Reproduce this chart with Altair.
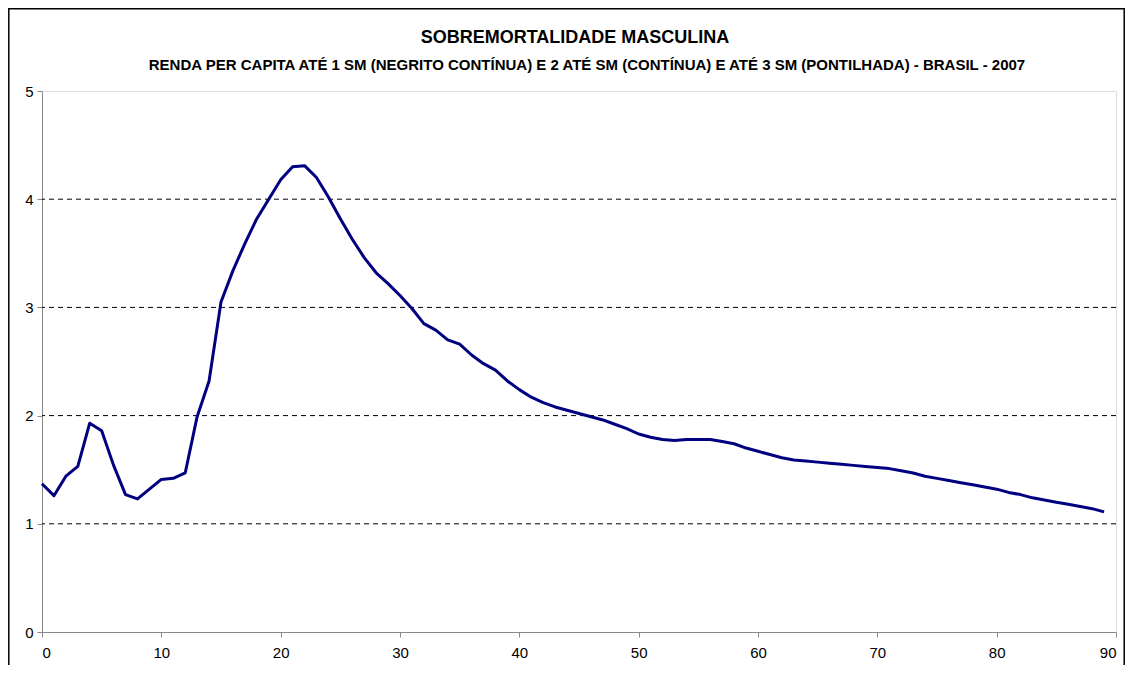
import altair as alt
import pandas as pd

TITLE = "SOBREMORTALIDADE MASCULINA"
SUBTITLE = "RENDA PER CAPITA ATÉ 1 SM (NEGRITO CONTÍNUA) E 2 ATÉ SM (CONTÍNUA) E ATÉ 3 SM (PONTILHADA) - BRASIL - 2007"

AGES = list(range(90))
RATIO = [
    1.37, 1.26, 1.44, 1.53, 1.93, 1.86, 1.54, 1.27, 1.23, 1.32,
    1.41, 1.42, 1.47, 1.99, 2.32, 3.05, 3.34, 3.59, 3.82, 4.00,
    4.18, 4.30, 4.31, 4.20, 4.02, 3.82, 3.63, 3.46, 3.32, 3.22,
    3.11, 2.99, 2.85, 2.79, 2.70, 2.66, 2.56, 2.48, 2.42, 2.32,
    2.24, 2.17, 2.12, 2.08, 2.05, 2.02, 1.99, 1.96, 1.92, 1.88,
    1.83, 1.80, 1.78, 1.77, 1.78, 1.78, 1.78, 1.76, 1.74, 1.70,
    1.67, 1.64, 1.61, 1.59, 1.58, 1.57, 1.56, 1.55, 1.54, 1.53,
    1.52, 1.51, 1.49, 1.47, 1.44, 1.42, 1.40, 1.38, 1.36, 1.34,
    1.32, 1.29, 1.27, 1.24, 1.22, 1.20, 1.18, 1.16, 1.14, 1.11,
]
X_TICKS = [0, 10, 20, 30, 40, 50, 60, 70, 80, 90]
Y_TICKS = [0, 1, 2, 3, 4, 5]
GRID = [1, 2, 3, 4]

FONT = "Liberation Sans"
W, H = 1074, 541

df = pd.DataFrame({"idade": AGES, "razao": RATIO})
grid_df = pd.DataFrame({"g": GRID})
one = pd.DataFrame({"k": [0]})

xs = alt.Scale(domain=[0, 90], nice=False, zero=False)
ys = alt.Scale(domain=[0, 5], nice=False)

x_axis = alt.Axis(values=X_TICKS, format="d", grid=False, labelPadding=8,
                  labelFont=FONT, labelFontSize=15, labelColor="#000000")
y_axis = alt.Axis(values=Y_TICKS, format="d", grid=False, labelPadding=4,
                  labelFont=FONT, labelFontSize=15, labelColor="#000000")

grid = alt.Chart(grid_df).mark_rule(color="#000000", strokeWidth=1, strokeDash=[5, 4]).encode(
    y=alt.Y("g:Q", scale=ys, title=None, axis=y_axis)
)

line = alt.Chart(df).mark_line(color="#000080", strokeWidth=3, strokeJoin="round").encode(
    x=alt.X("idade:Q", scale=xs, title=None, axis=x_axis),
    y=alt.Y("razao:Q", scale=ys, title=None, axis=y_axis),
)

title = alt.Chart(one).mark_text(font=FONT, fontSize=18, fontWeight="bold", color="#000000",
                                 align="center", baseline="middle").encode(
    x=alt.value(533), y=alt.value(-53), text=alt.value(TITLE)
)
subtitle = alt.Chart(one).mark_text(font=FONT, fontSize=15, fontWeight="bold", color="#000000",
                                    align="center", baseline="middle").encode(
    x=alt.value(545), y=alt.value(-26), text=alt.value(SUBTITLE)
)
frame = alt.Chart(one).mark_rect(filled=False, stroke="#000000", strokeWidth=1.5).encode(
    x=alt.value(-33.2), x2=alt.value(W + 8.2), y=alt.value(-82.2), y2=alt.value(H + 200)
)

chart = alt.layer(grid, line, title, subtitle, frame).resolve_axis(y="shared").properties(
    width=W, height=H,
    autosize=alt.AutoSizeParams(type="none"),
    padding={"left": 34, "top": 83, "right": 9, "bottom": 33},
).configure_view(
    stroke="#808080", strokeWidth=1
).configure_axis(
    domainColor="#000000", domainWidth=1, tickColor="#000000", tickSize=5, tickWidth=1,
    labelFont=FONT, labelFontSize=15, labelColor="#000000",
).configure(background="#ffffff")

chart.save("out.html", embed_options={"renderer": "svg", "actions": False})
